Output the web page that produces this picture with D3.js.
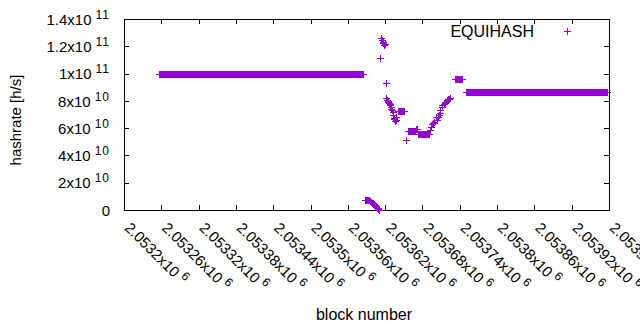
<!DOCTYPE html>
<html>
<head>
<meta charset="utf-8">
<script src="https://cdn.jsdelivr.net/npm/d3@7"></script>
<style>
  body { margin: 0; background: #fff; }
  svg { display: block; font-family: "Liberation Sans", Arial, sans-serif; }
</style>
</head>
<body>
<div id="chart"></div>
<script>
// axis ticks
const xTicks = [2053200, 2053260, 2053320, 2053380, 2053440, 2053500, 2053560,
                2053620, 2053680, 2053740, 2053800, 2053860, 2053920, 2053980];
const yTicks = [0, 2e10, 4e10, 6e10, 8e10, 1e11, 1.2e11, 1.4e11];

// stretches where the hashrate stays the same for every block
const runStart = [2053257, 2053640, 2053656, 2053669, 2053673, 2053733, 2053750];
const runEnd   = [2053584, 2053651, 2053668, 2053672, 2053690, 2053744, 2053977];
const runRate  = [1.0e11,  7.25e10, 5.8e10,  5.95e10, 5.6e10,  9.58e10, 8.63e10];

// single blocks
const ptBlock = [
  2053587, 2053588, 2053589, 2053590, 2053591, 2053592, 2053593, 2053594, 2053595,
  2053596, 2053597, 2053598, 2053599, 2053600, 2053601, 2053602, 2053603, 2053604,
  2053605, 2053606, 2053607, 2053608, 2053609, 2053610,
  2053612, 2053614, 2053615, 2053616, 2053617, 2053618, 2053620, 2053621, 2053622,
  2053623, 2053624, 2053625, 2053626, 2053627, 2053628, 2053629, 2053630, 2053631,
  2053632, 2053633, 2053634, 2053635, 2053636, 2053637, 2053638,
  2053654, 2053692, 2053694, 2053695, 2053697, 2053699, 2053701, 2053703, 2053705,
  2053706, 2053708, 2053709, 2053711, 2053712, 2053714, 2053716, 2053717, 2053719,
  2053720, 2053721, 2053723, 2053724
];
const ptRate = [
  7.6e9, 7.6e9, 7.5e9, 7.5e9, 7.4e9, 7.3e9, 7.2e9, 7.1e9, 6.9e9,
  6.6e9, 6.2e9, 5.8e9, 5.4e9, 5.0e9, 4.6e9, 4.2e9, 3.8e9, 3.3e9,
  2.8e9, 2.3e9, 1.8e9, 1.3e9, 0.8e9, 0.3e9,
  1.112e11, 1.264e11, 1.246e11, 1.232e11, 1.222e11, 1.209e11, 1.214e11, 9.29e10, 8.19e10,
  8.06e10, 8.01e10, 7.94e10, 7.85e10, 7.8e10, 7.7e10, 7.57e10, 7.4e10, 7.3e10,
  7.2e10, 6.96e10, 6.65e10, 6.72e10, 6.55e10, 6.6e10, 6.8e10,
  5.13e10, 5.86e10, 6.1e10, 6.3e10, 6.4e10, 6.47e10, 6.84e10, 6.6e10, 6.84e10,
  6.96e10, 7.09e10, 7.33e10, 7.57e10, 7.7e10, 7.77e10, 7.87e10, 7.92e10, 7.99e10,
  8.05e10, 8.11e10, 8.15e10, 8.19e10
];

const seriesName = "EQUIHASH";
const color = "#9400d3";

const svgWidth = 640, svgHeight = 330;
const margin = {top: 19, right: 31, bottom: 120, left: 124},
  width = svgWidth - margin.left - margin.right,
  height = svgHeight - margin.top - margin.bottom;

// build point list
var data = [];
for (let i = 0; i < runStart.length; i++) {
  for (let b = runStart[i]; b <= runEnd[i]; b++) data.push({block: b, rate: runRate[i]});
}
ptBlock.forEach((b, i) => data.push({block: b, rate: ptRate[i]}));

const svg = d3.select("#chart").append("svg")
  .attr("width", svgWidth).attr("height", svgHeight);
const g = svg.append("g").attr("transform", `translate(${margin.left},${margin.top})`);

const x = d3.scaleLinear().domain([2053200, 2053980]).range([0, width]);
const y = d3.scaleLinear().domain([0, 1.4e11]).range([height, 0]);

const plus = "M-3.5,0H3.5M0,-3.5V3.5";
const px = v => Math.round(x(v)) + 0.5;
const py = v => Math.round(y(v)) + 0.5;

// ticks (inward, mirrored)
function styleAxis(sel) {
  sel.select(".domain").remove();
  sel.selectAll("line").attr("stroke", "#000").attr("shape-rendering", "crispEdges");
}
g.append("g").attr("transform", `translate(0,${height})`)
  .call(d3.axisBottom(x).tickValues(xTicks).tickSizeInner(-5).tickSizeOuter(0).tickFormat(""))
  .call(styleAxis)
  .attr("class", "xaxis");
g.append("g")
  .call(d3.axisTop(x).tickValues(xTicks.slice(1, -1)).tickSizeInner(-5).tickSizeOuter(0).tickFormat(""))
  .call(styleAxis);
g.append("g")
  .call(d3.axisLeft(y).tickValues(yTicks).tickSizeInner(-5).tickSizeOuter(0).tickFormat(""))
  .call(styleAxis)
  .attr("class", "yaxis");
g.append("g").attr("transform", `translate(${width},0)`)
  .call(d3.axisRight(y).tickValues(yTicks.slice(1, -1)).tickSizeInner(-5).tickSizeOuter(0).tickFormat(""))
  .call(styleAxis);

// x tick labels, rotated
g.select(".xaxis").selectAll(".tick").each(function(d) {
  const t = d3.select(this).append("text")
    .attr("fill", "#000").attr("font-size", 15)
    .attr("text-anchor", "start")
    .attr("transform", "translate(3,15) rotate(45)")
    .attr("dy", "0.35em");
  t.append("tspan").text(String(+(d / 1e6).toFixed(5)) + "x10");
  t.append("tspan").attr("font-size", 12).attr("dx", 4).attr("dy", -6).text("6");
});

// y tick labels
g.select(".yaxis").selectAll(".tick").each(function(d) {
  const t = d3.select(this).append("text")
    .attr("fill", "#000").attr("font-size", 15)
    .attr("text-anchor", "end")
    .attr("x", -14).attr("dy", "0.35em");
  if (d === 0) { t.text("0"); return; }
  const e = Math.floor(Math.log10(d));
  const m = +(d / Math.pow(10, e)).toFixed(1);
  t.append("tspan").text(m + "x10");
  t.append("tspan").attr("font-size", 12).attr("dx", 4).attr("dy", -6)
    .attr("letter-spacing", 1).text(e);
});

// border
g.append("rect")
  .attr("x", 0.5).attr("y", 0.5).attr("width", width).attr("height", height)
  .attr("fill", "none").attr("stroke", "#000").attr("shape-rendering", "crispEdges");

// points
g.append("g").selectAll("path")
  .data(data).enter()
  .append("path")
    .attr("d", plus)
    .attr("transform", d => `translate(${px(d.block)},${py(d.rate)})`)
    .attr("stroke", color).attr("stroke-width", 1).attr("fill", "none")
    .attr("shape-rendering", "crispEdges");

// axis titles
svg.append("text")
  .attr("transform", "translate(16,120) rotate(-90)")
  .attr("text-anchor", "middle").attr("dy", "0.35em")
  .attr("font-size", 15).text("hashrate [h/s]");
svg.append("text")
  .attr("x", 364).attr("y", 314)
  .attr("text-anchor", "middle").attr("dy", "0.35em")
  .attr("font-size", 16).text("block number");

// key
svg.append("text")
  .attr("x", 534).attr("y", 31.5).attr("dy", "0.35em")
  .attr("text-anchor", "end").attr("font-size", 16).text(seriesName);
svg.append("path")
  .attr("d", plus)
  .attr("transform", "translate(567.5,31.5)")
  .attr("stroke", color).attr("fill", "none").attr("shape-rendering", "crispEdges");
</script>
</body>
</html>
